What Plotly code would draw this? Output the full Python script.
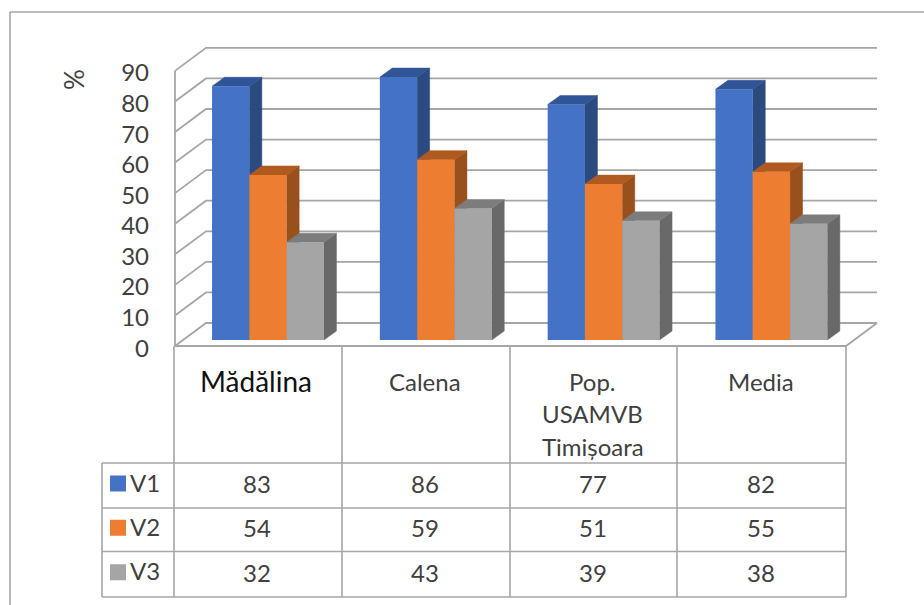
import plotly.graph_objects as go

# Chart data
CATEGORIES = ["Mădălina", "Calena", "Pop.<br>USAMVB<br>Timișoara", "Media"]
SERIES_NAMES = ["V1", "V2", "V3"]
V1 = [83, 86, 77, 82]
V2 = [54, 59, 51, 55]
V3 = [32, 43, 39, 38]
AXIS_TICKS = [0, 10, 20, 30, 40, 50, 60, 70, 80, 90]

SERIES = [V1, V2, V3]
FRONT = ["#4472C4", "#ED7D31", "#A5A5A5"]
TOP = ["#2F5597", "#B15A1F", "#7C7C7C"]
SIDE = ["#2B4A80", "#98501C", "#696969"]
LINE = "#A6A6A6"
TEXT = "#404040"
FONT = "Lato"

W, H = 924, 605
GROUP_PX = 167.8      # pixels between neighbouring groups
UNIT_PX = 3.057       # pixels per percentage point
ORIGIN_X = 268.0      # pixel centre of the first group
ORIGIN_Y = 340.0      # pixel height of the bar baseline


def dx(px):
    return px / GROUP_PX


def dy(px):
    return px / UNIT_PX


x_range = [-ORIGIN_X / GROUP_PX, (W - ORIGIN_X) / GROUP_PX]
y_range = [(ORIGIN_Y - H) / UNIT_PX, ORIGIN_Y / UNIT_PX]

# Bar geometry, in axis units
BAR_W = dx(37.3)
BAR_DX, BAR_DY = dx(12.5), dy(9)

# Chart box: front plane relative to the bar baseline, and the depth of the box
FRONT_LEFT = dx(175 - ORIGIN_X)
FRONT_RIGHT = dx(846 - ORIGIN_X)
FRONT_Y = dy(-6)
BOX_DX, BOX_DY = dx(31), dy(23)


def paper_x(px):
    return px / W


def paper_y(px):
    return 1 - px / H


fig = go.Figure()

# Back wall gridlines and left wall diagonals, one tick at a time
grid_x, grid_y = [], []
for t in AXIS_TICKS:
    y0 = t + FRONT_Y
    grid_x += [FRONT_LEFT, FRONT_LEFT + BOX_DX, FRONT_RIGHT + BOX_DX, None]
    grid_y += [y0, y0 + BOX_DY, y0 + BOX_DY, None]
# Front edge of the floor, its right diagonal and the vertical axis line
grid_x += [FRONT_LEFT, FRONT_RIGHT, FRONT_RIGHT + BOX_DX, None,
           FRONT_LEFT, FRONT_LEFT]
grid_y += [FRONT_Y, FRONT_Y, FRONT_Y + BOX_DY, None,
           FRONT_Y, AXIS_TICKS[-1] + FRONT_Y]
fig.add_trace(go.Scatter(x=grid_x, y=grid_y, mode="lines",
                         line=dict(color=LINE, width=1.8), hoverinfo="skip"))

# Side and top faces, painted from the first series to the last
for s, values in enumerate(SERIES):
    side_x, side_y, top_x, top_y = [], [], [], []
    for g, v in enumerate(values):
        left = g + (s - 1.5) * BAR_W
        right = left + BAR_W
        side_x += [right, right, right + BAR_DX, right + BAR_DX, right, None]
        side_y += [0, v, v + BAR_DY, BAR_DY, 0, None]
        top_x += [left, right, right + BAR_DX, left + BAR_DX, left, None]
        top_y += [v, v, v + BAR_DY, v + BAR_DY, v, None]
    for xs, ys, colour in ((side_x, side_y, SIDE[s]), (top_x, top_y, TOP[s])):
        fig.add_trace(go.Scatter(x=xs, y=ys, mode="lines", fill="toself",
                                 fillcolor=colour,
                                 line=dict(color=colour, width=0.5),
                                 hoverinfo="skip"))

# Value labels on the front plane
fig.add_trace(go.Scatter(
    x=[dx(149 - ORIGIN_X)] * len(AXIS_TICKS),
    y=[t + FRONT_Y + dy(-4.5) for t in AXIS_TICKS],
    text=[str(t) for t in AXIS_TICKS],
    mode="text", textposition="middle left",
    textfont=dict(family=FONT, size=24, color=TEXT), hoverinfo="skip"))

# Front faces sit on an overlay so that they hide the faces behind them
for s, values in enumerate(SERIES):
    fig.add_trace(go.Bar(x=list(range(len(values))), y=values,
                         name=SERIES_NAMES[s], marker=dict(color=FRONT[s], line_width=0),
                         xaxis="x2", yaxis="y2", hoverinfo="skip"))

# Data table under the chart
COLUMN_EDGES = [174, 342, 510, 677, 846]
ROW_EDGES = [463, 508, 551.5, 597]
TABLE_LEFT = 102
HEADER_TOP = 346
LINE_STEP = 32.5

shapes = []


def rule(x0, y0, x1, y1):
    shapes.append(dict(type="line", xref="paper", yref="paper",
                       x0=paper_x(x0), y0=paper_y(y0), x1=paper_x(x1), y1=paper_y(y1),
                       line=dict(color=LINE, width=1.6)))


for edge in COLUMN_EDGES:
    rule(edge, HEADER_TOP, edge, ROW_EDGES[-1])
rule(TABLE_LEFT, ROW_EDGES[0], TABLE_LEFT, ROW_EDGES[-1])
for edge in ROW_EDGES:
    rule(TABLE_LEFT, edge, COLUMN_EDGES[-1], edge)

# Outer frame of the chart area
rule(10, 12, 924, 12)
rule(10, 12, 10, 605)

annotations = []


def label(text, px, py, size=24, color=TEXT, anchor="center", angle=0):
    annotations.append(dict(text=text, xref="paper", yref="paper",
                            x=paper_x(px), y=paper_y(py), showarrow=False,
                            xanchor=anchor, yanchor="middle", textangle=angle,
                            font=dict(family=FONT, size=size, color=color)))


label("%", 74, 80, size=26, angle=-90)

centres = [(a + b) / 2 - 1 for a, b in zip(COLUMN_EDGES, COLUMN_EDGES[1:])]
for c, (name, centre) in enumerate(zip(CATEGORIES, centres)):
    for n, part in enumerate(name.split("<br>")):
        if c == 0:
            label(part, centre - 1, 381, size=28, color="#111111")
        else:
            label(part, centre, 381 + n * LINE_STEP)

for s, values in enumerate(SERIES):
    mid = (ROW_EDGES[s] + ROW_EDGES[s + 1]) / 2
    label(SERIES_NAMES[s], 128, mid - 3.5, anchor="left")
    shapes.append(dict(type="rect", xref="paper", yref="paper",
                       x0=paper_x(110), x1=paper_x(126),
                       y0=paper_y(mid - 10), y1=paper_y(mid + 6),
                       fillcolor=FRONT[s], line_width=0))
    for v, centre in zip(values, centres):
        label(str(v), centre, mid - 2)

hidden = dict(visible=False, fixedrange=True)
fig.update_layout(
    width=W, height=H, margin=dict(l=0, r=0, t=0, b=0),
    paper_bgcolor="white", plot_bgcolor="white", showlegend=False,
    barmode="group", bargap=1 - 3 * BAR_W, bargroupgap=0,
    xaxis=dict(range=x_range, **hidden),
    yaxis=dict(range=y_range, **hidden),
    xaxis2=dict(range=x_range, overlaying="x", **hidden),
    yaxis2=dict(range=y_range, overlaying="y", **hidden),
    shapes=shapes, annotations=annotations,
)

fig.write_html("out.html", config={"displayModeBar": False})
